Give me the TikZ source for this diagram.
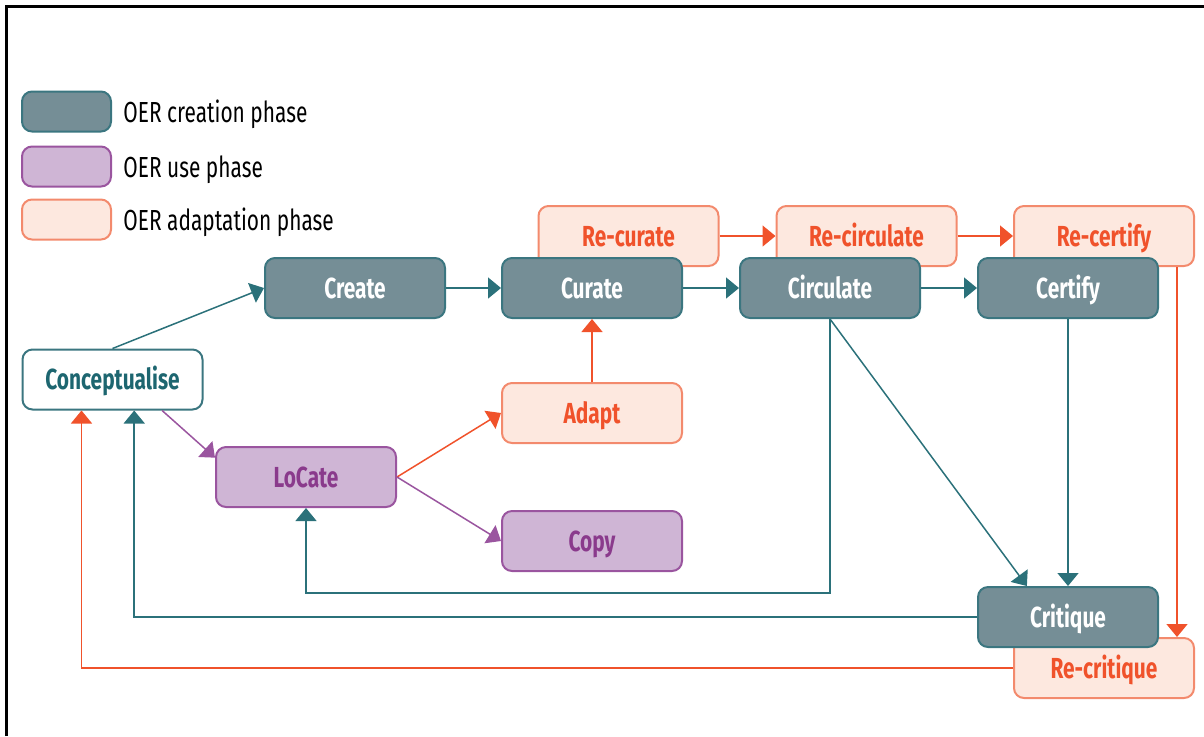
\documentclass[tikz,border=0pt]{standalone}
\usepackage{fontspec}
\setmainfont{Fira Sans}[FakeStretch=0.72]
\usetikzlibrary{arrows.meta, positioning}
\definecolor{crfill}{HTML}{758E96}
\definecolor{crdraw}{HTML}{3B7680}
\definecolor{crline}{HTML}{2B717A}
\definecolor{crtext}{HTML}{1D6670}
\definecolor{usfill}{HTML}{CFB5D5}
\definecolor{usdraw}{HTML}{9A559F}
\definecolor{ustext}{HTML}{8A3A8C}
\definecolor{adfill}{HTML}{FDE8DF}
\definecolor{addraw}{HTML}{F38A6D}
\definecolor{adtext}{HTML}{F0522B}
\tikzset{phase/.style={rectangle,rounded corners=5pt,line width=1pt,minimum width=90pt,minimum height=30pt,inner sep=0pt,text height=10pt,text depth=0pt,font=\fontsize{14.5}{16}\selectfont\bfseries},
crbox/.style={phase,draw=crdraw,fill=crfill,text=white},
usbox/.style={phase,draw=usdraw,fill=usfill,text=ustext},
adbox/.style={phase,draw=addraw,fill=adfill,text=adtext},
keybox/.style={rectangle,rounded corners=5pt,line width=1pt,minimum width=44.5pt,minimum height=20pt,inner sep=0pt},
keytext/.style={anchor=west,inner sep=0pt,text height=10pt,text depth=0pt,font=\fontsize{14.5}{16}\selectfont},
tline/.style={draw=crline,line width=0.75pt,-{Triangle[length=6.5pt,width=10.5pt]}},
uline/.style={draw=usdraw,line width=0.75pt,-{Triangle[length=6.5pt,width=10.5pt]}},
aline/.style={draw=adtext,line width=0.75pt,-{Triangle[length=6.5pt,width=10.5pt]}}}

\begin{document}
\begin{tikzpicture}[x=0.5pt,y=-0.5pt]
\useasboundingbox (0,0) rectangle (1204,736);
\draw[line width=1.5pt] (6.5,736) -- (6.5,6) -- (1204,6);

% legend
\node[keybox,draw=crdraw,fill=crfill] (keycr) at (66.5,111.5) {};
\node[keybox,draw=usdraw,fill=usfill] (keyus) at (66.5,166.5) {};
\node[keybox,draw=addraw,fill=adfill] (keyad) at (66.5,219.5) {};
\node[keytext] (keycrl) at (123,112) {OER creation phase};
\node[keytext] (keyusl) at (123,167) {OER use phase};
\node[keytext] (keyadl) at (123,220) {OER adaptation phase};

% adaptation row behind the creation row
\node[adbox] (rcur) at (628.5,236) {Re-curate};
\node[adbox] (rcirc) at (866.5,236) {Re-circulate};
\node[adbox] (rcert) at (1104,236) {Re-certify};
\node[adbox] (rcrit) at (1104,668) {Re-critique};

\node[crbox] (cre) at (355,288) {Create};
\node[crbox] (cur) at (592,288) {Curate};
\node[crbox] (circ) at (830,288) {Circulate};
\node[crbox] (cert) at (1068,288) {Certify};
\node[crbox] (crit) at (1068,617) {Critique};
\node[phase,draw=crdraw,fill=white,text=crtext] (concept) at (112.5,379.5) {Conceptualise};
\node[usbox] (loc) at (306,477) {LoCate};
\node[adbox] (adapt) at (592,413) {Adapt};
\node[usbox] (copy) at (592,541) {Copy};

\draw[tline] (concept.north) -- (cre.west);
\draw[tline] (cre) -- (cur);
\draw[tline] (cur) -- (circ);
\draw[tline] (circ) -- (cert);
\draw[aline] (rcur) -- (rcirc);
\draw[aline] (rcirc) -- (rcert);
\draw[aline] (adapt) -- (cur);
\draw[aline] (loc.east) -- (adapt.west);
\draw[uline] (loc.east) -- (copy.west);
\draw[uline] (concept.-32) -- (loc.168);
\draw[tline] (circ.south) -- (crit.143);
\draw[tline] (circ.south) -- ++(0,274) -| (loc.south);
\draw[tline] (cert) -- (crit);
\draw[tline] (crit.west) -| (concept.-55);
\draw[aline] ([xshift=-9pt]rcert.south east) -- ([xshift=-9pt]rcrit.north east);
\draw[aline] (rcrit.west) -| (concept.-135);
\end{tikzpicture}
\end{document}
